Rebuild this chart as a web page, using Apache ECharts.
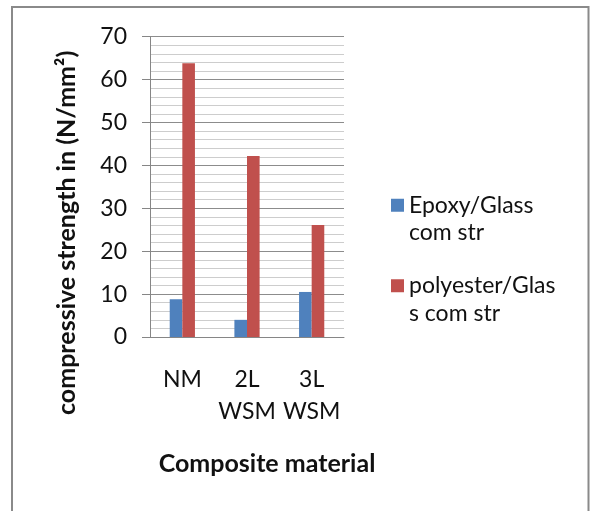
<!DOCTYPE html>
<html>
<head>
<meta charset="utf-8">
<script src="https://cdn.jsdelivr.net/npm/echarts@6/dist/echarts.min.js"></script>
<style>
  html, body { margin: 0; padding: 0; background: #fff; }
  #chart { width: 590px; height: 511px; }
</style>
</head>
<body>
<div id="chart"></div>
<script>
// Compressive strength of glass-fibre composites (N/mm²)
var categories = ['NM', '2L\nWSM', '3L\nWSM'];
var epoxyGlass = [8.8, 4.0, 10.5];
var polyesterGlass = [63.8, 42.2, 26.1];
var seriesNames = ['Epoxy/Glass\ncom str', 'polyester/Glas\ns com str'];
var yTicks = { min: 0, max: 70, step: 10, minorPerStep: 5 };

var FONT = 'Lato';
var TEXT = '#111';
var LEGEND_LH = 27.5;

var chart = echarts.init(document.getElementById('chart'), null, { renderer: 'canvas' });

chart.setOption({
  animation: false,
  backgroundColor: '#fff',
  graphic: [{
    type: 'rect',
    shape: { x: 12, y: 7, width: 576.5, height: 530 },
    style: { fill: 'none', stroke: '#8a8a8a', lineWidth: 2 },
    silent: true
  }],
  grid: { left: 150, top: 36.7, right: 246, bottom: 174, containLabel: false },
  legend: {
    orient: 'vertical',
    left: 386,
    top: 159,
    itemWidth: 13,
    itemHeight: 13,
    itemGap: -2,
    icon: 'rect',
    data: seriesNames,
    // leading blank line keeps the swatch level with the first text line
    formatter: function (name) { return '\n' + name; },
    textStyle: {
      fontFamily: FONT, fontSize: 23, color: TEXT, lineHeight: LEGEND_LH
    }
  },
  xAxis: {
    type: 'category',
    data: categories,
    name: 'Composite material',
    nameLocation: 'middle',
    nameGap: 114,
    nameTextStyle: {
      fontFamily: FONT, fontSize: 25, fontWeight: 'bold', color: TEXT,
      padding: [0, 0, 0, 40]
    },
    axisLine: { lineStyle: { color: '#868686', width: 1 } },
    axisTick: { show: false },
    axisLabel: {
      fontFamily: FONT, fontSize: 23, color: TEXT,
      lineHeight: 32, margin: 27, interval: 0
    }
  },
  yAxis: {
    type: 'value',
    min: yTicks.min,
    max: yTicks.max,
    interval: yTicks.step,
    name: 'compressive strength in (N/mm²)',
    nameLocation: 'middle',
    nameGap: 71,
    nameRotate: 90,
    nameTextStyle: {
      fontFamily: FONT, fontSize: 25, fontWeight: 'bold', color: TEXT,
      padding: [0, 92, 0, 0]
    },
    axisLine: { show: true, lineStyle: { color: '#868686', width: 1 } },
    axisTick: { show: true, length: 8, lineStyle: { color: '#868686' } },
    axisLabel: { fontFamily: FONT, fontSize: 23, color: TEXT, margin: 23 },
    splitLine: { show: true, lineStyle: { color: '#8c8c8c', width: 1 } },
    minorTick: { show: false, splitNumber: yTicks.minorPerStep },
    minorSplitLine: { show: true, lineStyle: { color: '#cdcdcd', width: 1 } }
  },
  series: [
    {
      name: seriesNames[0],
      type: 'bar',
      data: epoxyGlass,
      barGap: '0%',
      barCategoryGap: '61%',
      itemStyle: { color: '#4F81BD' }
    },
    {
      name: seriesNames[1],
      type: 'bar',
      data: polyesterGlass,
      barGap: '0%',
      barCategoryGap: '61%',
      itemStyle: { color: '#C0504D' }
    }
  ]
});
</script>
</body>
</html>
